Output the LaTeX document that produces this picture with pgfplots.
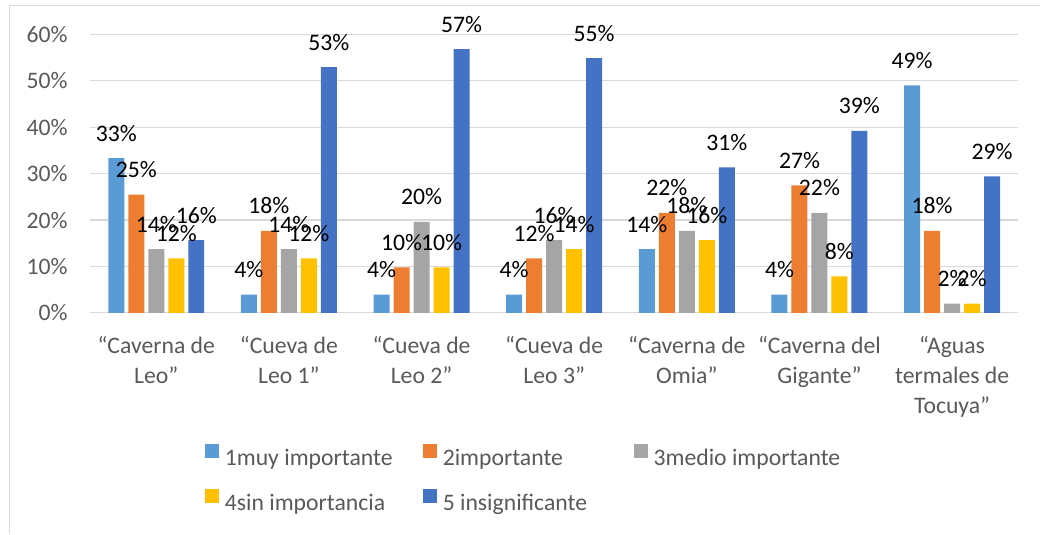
\documentclass[border=0pt]{standalone}
\usepackage{fontspec}
\setmainfont{Carlito}
\usepackage{pgfplots}
\usepackage{pgfplotstable}
\pgfplotsset{compat=1.18}
\definecolor{cA}{HTML}{5B9BD5}
\definecolor{cB}{HTML}{ED7D31}
\definecolor{cC}{HTML}{A5A5A5}
\definecolor{cD}{HTML}{FFC000}
\definecolor{cE}{HTML}{4472C4}
\definecolor{txt}{HTML}{595959}
\definecolor{grd}{HTML}{D9D9D9}
\pgfplotstableread{
x a b c d e
0 33.33 25.49 13.73 11.76 15.69
1 3.92 17.65 13.73 11.76 52.94
2 3.92 9.80 19.61 9.80 56.86
3 3.92 11.76 15.69 13.73 54.90
4 13.73 21.57 17.65 15.69 31.37
5 3.92 27.45 21.57 7.84 39.22
6 49.02 17.65 1.96 1.96 29.41
}\datatable
\newcommand{\lt}[2]{\rule[-3pt]{0pt}{12pt}\makebox[#1][l]{\hspace{3pt}#2}}
\begin{document}
\begin{tikzpicture}
\path (0,0) rectangle (520.5pt,267pt);
\draw[grd, line width=0.6pt] (4.65pt,0pt) -- (4.65pt,264.15pt) -- (520.5pt,264.15pt);
\begin{axis}[
  at={(45pt,110.5pt)}, anchor=south west,
  scale only axis, width=464.5pt, height=139.25pt,
  ybar=2pt, bar width=8pt,
  xmin=-0.5, xmax=6.5, ymin=0, ymax=60,
  ytick={0,10,...,60},
  yticklabel={\pgfmathprintnumber{\tick}\%},
  /pgf/number format/assume math mode=true,
  xtick={0,...,6},
  xticklabels={{“Caverna de\\Leo”},{“Cueva de\\Leo 1”},{“Cueva de\\Leo 2”},{“Cueva de\\Leo 3”},{“Caverna de\\Omia”},{“Caverna del\\Gigante”},{“Aguas\\termales de\\Tocuya”}},
  major tick length=0pt,
  axis line style={draw=none},
  ymajorgrids, major grid style={grd, line width=0.6pt},
  tick label style={font=\fontsize{11.85}{15}\selectfont, text=txt},
  xticklabel style={align=center, anchor=north, inner sep=0pt, yshift=-11.5pt},
  yticklabel style={anchor=east, inner sep=0pt, xshift=-11pt},
  clip=false,
  nodes near coords={\pgfmathprintnumber[fixed,precision=0]{\pgfplotspointmeta}\%},
  every node near coord/.append style={font=\fontsize{11.85}{14}\selectfont, text=black, anchor=base, inner sep=0pt, yshift=8.5pt},
  legend columns=3,
  legend image code/.code={\fill[#1,draw=none] (0pt,0pt) rectangle (7pt,7pt);},
  legend style={at={(0.1238,-0.4703)}, anchor=north west, draw=none, inner sep=0pt, outer sep=0pt,
    column sep=0pt, row sep=10.5pt, font=\fontsize{11.85}{14}\selectfont, text=txt,
    nodes={inner sep=0pt}, cells={anchor=west}},
]
\addplot[fill=cA, draw=none] table[x=x, y=a] {\datatable};
\addplot[fill=cB, draw=none] table[x=x, y=b] {\datatable};
\addplot[fill=cC, draw=none] table[x=x, y=c] {\datatable};
\addplot[fill=cD, draw=none] table[x=x, y=d] {\datatable};
\addplot[fill=cE, draw=none] table[x=x, y=e] {\datatable};
\legend{\lt{102pt}{1muy importante},\lt{98.5pt}{2importante},\lt{100pt}{3medio importante},\lt{102pt}{4sin importancia},\lt{98.5pt}{5 insignificante}}
\end{axis}
\end{tikzpicture}
\end{document}
